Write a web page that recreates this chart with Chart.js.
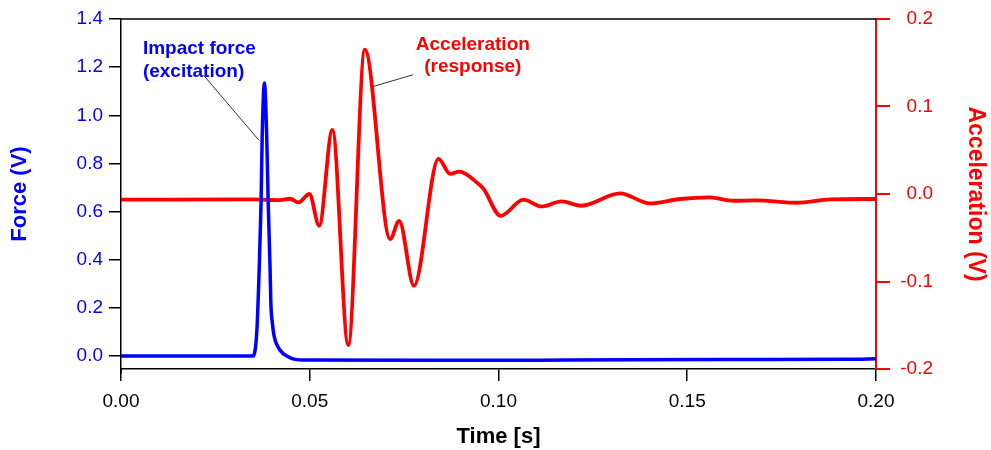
<!DOCTYPE html>
<html>
<head>
<meta charset="utf-8">
<title>Impact test - force and acceleration</title>
<script src="https://cdn.jsdelivr.net/npm/chart.js@4.4.1/dist/chart.umd.min.js"></script>
<style>
    body { margin: 0; background: #fff; }
    canvas { display: block; }
</style>
</head>
<body>
<canvas id="impactChart" width="991" height="450"></canvas>
<script>
// hammer channel (left axis)
var forceTime = [0, 0.020, 0.0350, 0.0360, 0.0366, 0.0371, 0.0374, 0.0380, 0.0386, 0.0390, 0.0395, 0.0397, 0.0401, 0.0406, 0.0421, 0.0443, 0.0461, 0.0487, 0.080, 0.118, 0.160, 0.193, 0.200];
var forceValues = [0.0, 0.0, 0.0, 0.108, 0.358, 0.635, 0.912, 1.134, 0.912, 0.635, 0.358, 0.219, 0.136, 0.080, 0.025, -0.003, -0.014, -0.017, -0.018, -0.017, -0.015, -0.014, -0.011];

// accelerometer channel (right axis)
var accelTime = [0, 0.035, 0.0421, 0.0448, 0.0470, 0.0499, 0.0525, 0.0560, 0.0602, 0.0646, 0.0713, 0.0737, 0.0776, 0.0841, 0.0872, 0.0896, 0.0947, 0.0960, 0.1006, 0.1066, 0.1114, 0.1167, 0.1220, 0.1322, 0.1401, 0.1481, 0.1560, 0.1622, 0.1684, 0.1790, 0.1878, 0.2000];
var accelValues = [-0.0065, -0.0062, -0.0069, -0.0054, -0.0096, 0.0, -0.0363, 0.0733, -0.1726, 0.165, -0.0515, -0.0306, -0.105, 0.0401, 0.0229, 0.0255, 0.0115, 0.0061, -0.0249, -0.0065, -0.0142, -0.0085, -0.0134, 0.0007, -0.0108, -0.0057, -0.0039, -0.0077, -0.0073, -0.0100, -0.0062, -0.0057];

var timeTicks = [0, 0.05, 0.10, 0.15, 0.20];
var forceTicks = [0, 0.2, 0.4, 0.6, 0.8, 1.0, 1.2, 1.4];
var accelTicks = [-0.2, -0.1, 0, 0.1, 0.2];

// callouts: text lines, where each line sits (time, value), leader line ends
var forceNoteText = ['Impact force', '(excitation)'];
var forceNoteAt = [[0.0058, 1.275], [0.0058, 1.182]];
var forceLeader = [[0.0218, 1.168], [0.0366, 0.895]];
var accelNoteText = ['Acceleration', '(response)'];
var accelNoteAt = [[0.0932, 0.170], [0.0932, 0.145]];
var accelLeader = [[0.0774, 0.1363], [0.0668, 0.1229]];

var FONT = "'Liberation Sans', Arial, sans-serif";
var BLUE = '#0000ff';
var RED = '#ff0000';

function toPoints(xs, ys) {
    return xs.map(function (x, i) { return { x: x, y: ys[i] }; });
}

function fixedTicks(list) {
    return function (scale) {
        scale.ticks = list.map(function (v) { return { value: v }; });
    };
}

// frame top line, axis titles and callouts
var decorations = {
    id: 'decorations',
    afterDraw: function (chart) {
        var ctx = chart.ctx;
        var area = chart.chartArea;
        var sx = chart.scales.x, sy = chart.scales.y, sy2 = chart.scales.y2;

        ctx.save();
        ctx.strokeStyle = '#000';
        ctx.lineWidth = 1.5;
        ctx.beginPath();
        ctx.moveTo(area.left, area.top);
        ctx.lineTo(area.right, area.top);
        // left axis runs a little past the bottom axis
        ctx.moveTo(area.left, area.bottom);
        ctx.lineTo(area.left, area.bottom + 5);
        ctx.stroke();

        // axis titles
        ctx.font = 'bold 22px ' + FONT;
        ctx.textAlign = 'center';
        ctx.textBaseline = 'middle';
        var midY = (area.top + area.bottom) / 2;

        ctx.fillStyle = '#000';
        ctx.fillText('Time [s]', (area.left + area.right) / 2, area.bottom + 68);

        ctx.save();
        ctx.translate(area.left - 101, midY);
        ctx.rotate(-Math.PI / 2);
        ctx.fillStyle = BLUE;
        ctx.fillText('Force (V)', 0, 0);
        ctx.restore();

        ctx.save();
        ctx.translate(area.right + 99, midY);
        ctx.rotate(Math.PI / 2);
        ctx.fillStyle = RED;
        ctx.font = 'bold 23px ' + FONT;
        ctx.fillText('Acceleration (V)', 0, 0);
        ctx.restore();

        // leader lines
        ctx.strokeStyle = '#333';
        ctx.lineWidth = 1;
        ctx.beginPath();
        ctx.moveTo(sx.getPixelForValue(forceLeader[0][0]), sy.getPixelForValue(forceLeader[0][1]));
        ctx.lineTo(sx.getPixelForValue(forceLeader[1][0]), sy.getPixelForValue(forceLeader[1][1]));
        ctx.moveTo(sx.getPixelForValue(accelLeader[0][0]), sy2.getPixelForValue(accelLeader[0][1]));
        ctx.lineTo(sx.getPixelForValue(accelLeader[1][0]), sy2.getPixelForValue(accelLeader[1][1]));
        ctx.stroke();

        // callout text
        ctx.font = 'bold 19px ' + FONT;
        ctx.textAlign = 'left';
        ctx.fillStyle = BLUE;
        forceNoteText.forEach(function (t, i) {
            ctx.fillText(t, sx.getPixelForValue(forceNoteAt[i][0]), sy.getPixelForValue(forceNoteAt[i][1]));
        });
        ctx.textAlign = 'center';
        ctx.fillStyle = RED;
        accelNoteText.forEach(function (t, i) {
            ctx.fillText(t, sx.getPixelForValue(accelNoteAt[i][0]), sy2.getPixelForValue(accelNoteAt[i][1]));
        });
        ctx.restore();
    }
};

var ctx = document.getElementById('impactChart').getContext('2d');

var impactChart = new Chart(ctx, {
    type: 'line',
    data: {
        datasets: [
            {
                label: 'Force',
                data: toPoints(forceTime, forceValues),
                yAxisID: 'y',
                borderColor: BLUE,
                borderWidth: 3.5,
                cubicInterpolationMode: 'monotone',
                pointRadius: 0
            },
            {
                label: 'Acceleration',
                data: toPoints(accelTime, accelValues),
                yAxisID: 'y2',
                borderColor: RED,
                borderWidth: 3.8,
                cubicInterpolationMode: 'monotone',
                pointRadius: 0
            }
        ]
    },
    options: {
        responsive: false,
        animation: false,
        layout: { padding: { top: 19, right: 58, bottom: 0, left: 0 } },
        plugins: {
            legend: { display: false },
            tooltip: { enabled: false }
        },
        scales: {
            x: {
                type: 'linear',
                min: 0,
                max: 0.2,
                afterBuildTicks: fixedTicks(timeTicks),
                afterFit: function (scale) { scale.height = 81; },
                grid: { drawOnChartArea: false, tickLength: 12, color: '#000', lineWidth: 1.5 },
                border: { color: '#000', width: 1.5 },
                ticks: {
                    color: '#000',
                    padding: 9,
                    maxRotation: 0,
                    font: { family: FONT, size: 19 },
                    callback: function (v) { return v.toFixed(2); }
                }
            },
            y: {
                position: 'left',
                min: -0.054,
                max: 1.4,
                afterBuildTicks: fixedTicks(forceTicks),
                afterFit: function (scale) { scale.width = 121; },
                grid: { drawOnChartArea: false, tickLength: 12, color: '#000', lineWidth: 1.5 },
                border: { color: '#000', width: 1.5 },
                ticks: {
                    color: BLUE,
                    padding: 6,
                    font: { family: FONT, size: 19 },
                    callback: function (v) { return v.toFixed(1); }
                }
            },
            y2: {
                position: 'right',
                min: -0.2,
                max: 0.2,
                afterBuildTicks: fixedTicks(accelTicks),
                afterFit: function (scale) { scale.width = 57; },
                grid: { drawOnChartArea: false, tickLength: 14, color: RED, lineWidth: 2 },
                border: { color: RED, width: 2 },
                ticks: {
                    color: RED,
                    padding: 6,
                    crossAlign: 'far',
                    font: { family: FONT, size: 19 },
                    callback: function (v) { return v.toFixed(1); }
                }
            }
        }
    },
    plugins: [decorations]
});
</script>
</body>
</html>
